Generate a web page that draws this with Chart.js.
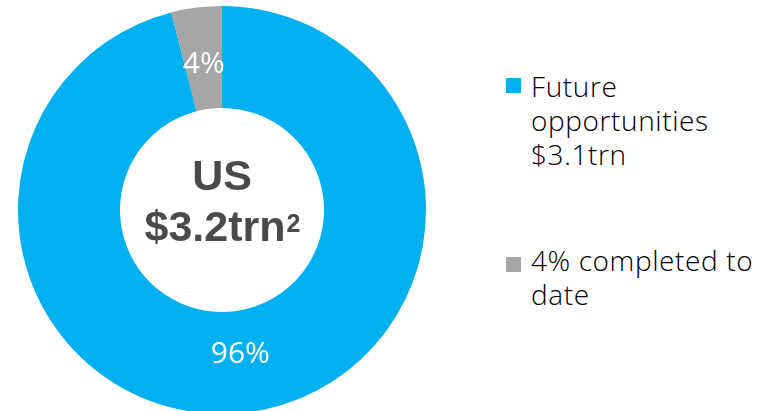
<!DOCTYPE html>
<html lang="en">
  <head>
    <meta charset="UTF-8" />
    <title>US opportunities</title>
    <style>
      html, body { margin: 0; padding: 0; background: #fff; overflow: hidden; }
      body { width: 777px; height: 411px; position: relative; }
      .chart-box { position: absolute; left: 0; top: 0; width: 444px; height: 420px; }
      .legend { position: absolute; left: 506px; top: 0; font-family: "Open Sans", Roboto, sans-serif; font-weight: 300; font-size: 28px; line-height: 34px; letter-spacing: 0.6px; color: #000; }
      .legend .item { position: absolute; left: 0; width: 270px; padding-left: 25px; white-space: nowrap; }
      .legend .swatch { position: absolute; left: 0; top: 10px; width: 15px; height: 15px; }
    </style>
  </head>
  <body>
    <div class="chart-box"><canvas id="myChart" width="444" height="420"></canvas></div>
    <div class="legend" id="legend"></div>

    <script src="https://cdn.jsdelivr.net/npm/chart.js@4/dist/chart.umd.min.js"></script>
    <script>
      // share of the US total, in percent
      var labels = ["Future opportunities $3.1trn", "4% completed to date"];
      var legendLines = [["Future", "opportunities", "$3.1trn"], ["4% completed to", "date"]];
      var values = [96, 4];
      var colors = ["#00b0f0", "#a6a6a6"];
      var centerTitle = "US";
      var centerValue = "$3.2trn";
      var centerNote = "2";

      // white percentage on each slice, a bit inside the middle of the ring
      var sliceLabels = {
        id: "sliceLabels",
        afterDatasetsDraw: function (chart) {
          var ctx = chart.ctx;
          var meta = chart.getDatasetMeta(0);
          ctx.save();
          ctx.fillStyle = "#ffffff";
          ctx.font = "30px 'Open Sans', Roboto, sans-serif";
          ctx.textAlign = "center";
          ctx.textBaseline = "alphabetic";
          meta.data.forEach(function (arc, i) {
            var a = (arc.startAngle + arc.endAngle) / 2;
            var r = arc.innerRadius + (arc.outerRadius - arc.innerRadius) * 0.43;
            ctx.fillText(values[i] + "%", arc.x + r * Math.cos(a), arc.y + r * Math.sin(a) + 8);
          });
          ctx.restore();
        },
      };

      // total in the hole
      var centerText = {
        id: "centerText",
        afterDraw: function (chart) {
          var ctx = chart.ctx;
          var arc = chart.getDatasetMeta(0).data[0];
          var x = arc.x, y = arc.y;
          ctx.save();
          ctx.fillStyle = "#4a4a4a";
          ctx.textBaseline = "alphabetic";
          ctx.textAlign = "center";
          ctx.font = "bold 43px 'Liberation Sans', Arial, sans-serif";
          ctx.fillText(centerTitle, x, y - 20);
          var w1 = ctx.measureText(centerValue).width;
          ctx.font = "bold 25px 'Liberation Sans', Arial, sans-serif";
          var w2 = ctx.measureText(centerNote).width;
          var start = x - (w1 + w2) / 2;
          ctx.textAlign = "left";
          ctx.font = "bold 43px 'Liberation Sans', Arial, sans-serif";
          ctx.fillText(centerValue, start, y + 31);
          ctx.font = "bold 25px 'Liberation Sans', Arial, sans-serif";
          ctx.fillText(centerNote, start + w1 + 1, y + 22);
          ctx.restore();
        },
      };

      new Chart(document.getElementById("myChart"), {
        type: "doughnut",
        data: {
          labels: labels,
          datasets: [
            {
              data: values,
              backgroundColor: colors,
              borderWidth: 0,
            },
          ],
        },
        options: {
          responsive: false,
          animation: false,
          cutout: "50%",
          layout: { padding: { top: 6, bottom: 6, left: 18, right: 18 } },
          plugins: { legend: { display: false }, tooltip: { enabled: false } },
        },
        plugins: [sliceLabels, centerText],
      });

      // legend on the right
      var legendTops = [69, 243];
      var swatchTops = [9, 14];
      var legend = document.getElementById("legend");
      legendLines.forEach(function (lines, i) {
        var item = document.createElement("div");
        item.className = "item";
        item.style.top = legendTops[i] + "px";
        var sw = document.createElement("span");
        sw.className = "swatch";
        sw.style.background = colors[i];
        sw.style.top = swatchTops[i] + "px";
        item.appendChild(sw);
        lines.forEach(function (t) {
          var d = document.createElement("div");
          d.textContent = t;
          item.appendChild(d);
        });
        legend.appendChild(item);
      });
    </script>
  </body>
</html>
